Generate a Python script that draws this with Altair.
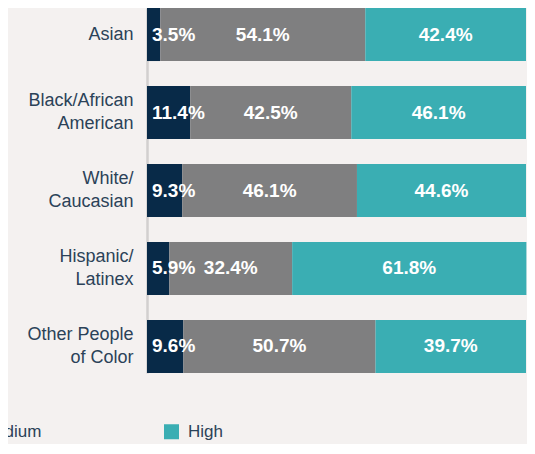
import altair as alt
import pandas as pd

groups = ["Asian", "Black/African|American", "White/|Caucasian", "Hispanic/|Latinex", "Other People|of Color"]
levels = ["Low", "Medium", "High"]
low = [3.5, 11.4, 9.3, 5.9, 9.6]
medium = [54.1, 42.5, 46.1, 32.4, 50.7]
high = [42.4, 46.1, 44.6, 61.8, 39.7]
colors = ["#082a48", "#7f7f80", "#3aaeb3"]

rows = []
for i, g in enumerate(groups):
    start = 0.0
    for j, (lvl, vals) in enumerate(zip(levels, [low, medium, high])):
        v = vals[i]
        rows.append({"group": g, "level": lvl, "order": j, "value": v,
                     "start": start, "end": start + v, "mid": start + v / 2,
                     "label": f"{v}%"})
        start += v
df = pd.DataFrame(rows)

yenc = alt.Y("group:N", sort=groups, title=None,
             scale=alt.Scale(paddingInner=0.32, paddingOuter=0),
             axis=alt.Axis(labelExpr="split(datum.label, '|')", ticks=False,
                           labelPadding=14, labelFontSize=18, labelLineHeight=23,
                           labelOffset={"condition": {"test": "datum.value != 'Asian'", "value": -11.5}, "value": 0},
                           labelColor="#2b4258", labelFont="Liberation Sans",
                           domainColor="#d2cfcf", domainWidth=2.5))
xscale = alt.Scale(domain=[0, 100], nice=False, zero=True)

bars = alt.Chart(df).mark_bar().encode(
    x=alt.X("start:Q", scale=xscale, axis=None),
    x2="end:Q",
    y=yenc,
    color=alt.Color("level:N", sort=levels,
                    scale=alt.Scale(domain=levels, range=colors),
                    legend=alt.Legend(title=None, orient="none", direction="horizontal",
                                      legendX=-369, legendY=415, symbolType="square",
                                      symbolSize=225, symbolStrokeWidth=0,
                                      labelFontSize=17, labelColor="#2b4258",
                                      labelFont="Liberation Sans", labelOffset=8,
                                      columnPadding=121)),
    order="order:Q",
)

txt_low = alt.Chart(df).transform_filter(alt.datum.level == "Low").mark_text(
    align="left", baseline="middle", dx=5, color="white", fontWeight="bold",
    fontSize=19, font="Liberation Sans").encode(
    x=alt.X("start:Q", scale=xscale), y=alt.Y("group:N", sort=groups), text="label:N")

txt_rest = alt.Chart(df).transform_filter(alt.datum.level != "Low").mark_text(
    align="center", baseline="middle", color="white", fontWeight="bold",
    fontSize=19, font="Liberation Sans").encode(
    x=alt.X("mid:Q", scale=xscale), y=alt.Y("group:N", sort=groups), text="label:N")

chart = alt.layer(bars, txt_low, txt_rest).properties(
    width=379, height=365,
    background="#f4f1f0",
    autosize=alt.AutoSizeParams(type="none"),
    padding={"left": 139, "top": 0, "right": 1, "bottom": 71},
).configure_view(stroke=None)

chart.save("out.html", embed_options={"renderer": "svg", "actions": False})
